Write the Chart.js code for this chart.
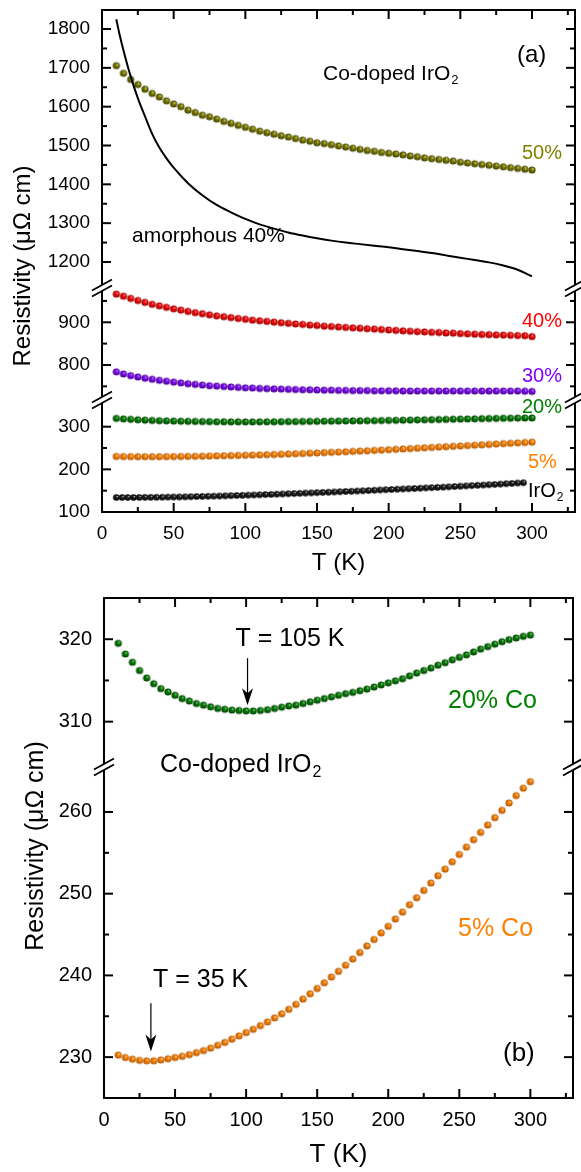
<!DOCTYPE html>
<html>
<head>
<meta charset="utf-8">
<script src="https://cdn.jsdelivr.net/npm/chart.js@4.4.1/dist/chart.umd.min.js"></script>
<style>
  html, body { margin: 0; padding: 0; background: #fff; }
  body { width: 581px; height: 1172px; position: relative; overflow: hidden; }
  canvas { position: absolute; left: 0; }
  #chartA { top: 0; }
  #chartB { top: 580px; }
</style>
</head>
<body>
<canvas id="chartA" width="581" height="580"></canvas>
<canvas id="chartB" width="581" height="592"></canvas>
<script>
// temperatures (K)
const temp5 = [10,15,20,25,30,35,40,45,50,55,60,65,70,75,80,85,90,95,100,105,110,115,120,125,130,135,140,145,150,155,
  160,165,170,175,180,185,190,195,200,205,210,215,220,225,230,235,240,245,250,255,260,265,270,275,280,285,290,295,300];
const tempIrO2 = [10,14,18,22,26,30,34,38,42,46,50,54,58,62,66,70,74,78,82,86,90,94,98,102,106,110,114,118,122,126,
  130,134,138,142,146,150,154,158,162,166,170,174,178,182,186,190,194,198,202,206,210,214,218,222,226,230,234,238,242,246,
  250,254,258,262,266,270,274,278,282,286,290,294];
const tempAmorph = [10,12,15,20,25,30,35,40,45,50,60,70,80,90,100,110,120,130,140,150,160,170,180,190,200,210,220,230,240,250,260,270,280,290,300];

// resistivity (uOhm cm)
const rho50 = [1705.6,1686,1670,1657,1645,1634,1625,1615,1607,1600,
  1591,1585,1578,1574,1568,1562,1557,1552,1547,1542,
  1537,1533,1529,1525,1522,1518,1514,1511,1507,1505,
  1502,1499,1496,1493,1490,1487,1485,1482,1480,1478,
  1476,1473,1471,1468,1466,1464,1462,1460,1457,1455,
  1453,1451,1449,1447,1445,1443,1441,1439,1437];
const rho40 = [966,961,956,951,946.5,942,938.5,935,931.5,928.5,
  925.5,922.5,920,917.5,915,913,911,909,907,905,
  903.5,902,900.5,899,897.5,896,895,893.5,892.5,891,
  890,889,888,887,886,885,884,883,882,881,
  880,879,878,877.5,876.5,876,875,874.5,873.5,873,
  872,871.5,871,870.5,870,869.5,869,868.5,866.5];
const rho30 = [784,779,775,772,769,766.5,764,762,760,758,
  756,754.5,753,751.5,750.5,749.5,748.5,747.5,746.5,746,
  745,744.5,744,743.5,743,742.5,742,742,741.5,741,
  741,740.5,740.5,740,740,740,739.5,739.5,739.5,739.5,
  739,739,739,739,739,739,739,739,739,739,
  739,739,739,739,739,739,739,738.5,738];
const rho20 = [319.5,318.2,317.2,316.2,315.3,314.6,314.0,313.6,313.2,312.8,
  312.5,312.2,312.0,311.8,311.6,311.5,311.4,311.35,311.3,311.3,
  311.35,311.45,311.6,311.75,311.9,312.0,312.2,312.4,312.6,312.8,
  313.0,313.2,313.4,313.55,313.75,313.95,314.2,314.45,314.7,314.95,
  315.2,315.55,315.9,316.2,316.5,316.85,317.15,317.5,317.8,318.1,
  318.45,318.8,319.1,319.4,319.7,319.95,320.15,320.35,320.5];
const rho5 = [230.25,229.95,229.75,229.6,229.55,229.55,229.65,229.8,229.95,230.1,
  230.3,230.55,230.8,231.1,231.45,231.8,232.2,232.6,233.0,233.4,
  233.85,234.3,234.8,235.3,235.85,236.45,237.1,237.75,238.4,239.1,
  239.8,240.5,241.25,242.0,242.8,243.6,244.4,245.2,246.0,246.9,
  247.75,248.65,249.5,250.4,251.3,252.2,253.0,253.9,254.8,255.7,
  256.6,257.5,258.4,259.3,260.2,261.1,262.0,262.9,263.7];
const rhoIrO2 = [134.0,134.0,134.1,134.1,134.2,134.3,134.4,134.5,134.7,134.9,
  135.1,135.3,135.6,135.9,136.2,136.5,136.8,137.2,137.5,137.9,
  138.3,138.7,139.1,139.5,140.0,140.4,140.9,141.3,141.8,142.3,
  142.8,143.3,143.8,144.3,144.8,145.3,145.9,146.4,147.0,147.5,
  148.1,148.6,149.2,149.8,150.4,151.0,151.6,152.2,152.8,153.4,
  154.0,154.6,155.2,155.8,156.5,157.1,157.7,158.3,159.0,159.7,
  160.5,161.2,161.9,162.6,163.3,164.0,164.7,165.5,166.3,167.1,167.9,168.7];
const rhoAmorph = [1825,1790,1745,1678,1622,1575,1530,1495,1467,1443,1403,1372,1347,1328,1311,1297,1286,1276,1268,1261,
  1255,1250,1246,1242,1238,1233,1228,1223,1217,1211,1205,1199,1191,1180,1163];

// ticks
const xMajor = [0,50,100,150,200,250,300];
const xMinor = [25,75,125,175,225,275,325];
const yTopA = [1200,1300,1400,1500,1600,1700,1800];
const yTopAMinor = [1250,1350,1450,1550,1650,1750];
const yMidA = [800,900];
const yMidAMinor = [750,850,950];
const yLowA = [100,200,300];
const yLowAMinor = [150,250];
const yTopB = [310,320];
const yTopBMinor = [315];
const yLowB = [230,240,250,260];
const yLowBMinor = [235,245,255];

const FONT = "'Liberation Sans', Arial, Helvetica, sans-serif";

const pts = (xs, ys) => xs.map((x, i) => ({x: x, y: ys[i]}));

function ball(light, mid, dark, r) {
  const c = document.createElement('canvas');
  const s = Math.ceil(2 * r + 2);
  c.width = s; c.height = s;
  const g = c.getContext('2d');
  const cx = s / 2, cy = s / 2;
  const grad = g.createRadialGradient(cx + r * 0.3, cy - r * 0.35, 0, cx, cy, r);
  grad.addColorStop(0, light);
  grad.addColorStop(0.3, mid);
  grad.addColorStop(1, dark);
  g.fillStyle = grad;
  g.beginPath(); g.arc(cx, cy, r, 0, Math.PI * 2); g.fill();
  return c;
}

function dots(data, yAxisID, img) {
  return {data: data, yAxisID: yAxisID, pointStyle: img, pointRadius: 3.5, showLine: false};
}

function drawText(ctx, t) {
  ctx.font = t.size + 'px ' + FONT;
  ctx.fillStyle = t.color || '#000';
  ctx.textBaseline = 'alphabetic';
  ctx.textAlign = 'left';
  const base = t.y + t.size * 0.358;
  let w = ctx.measureText(t.text).width;
  const subSize = Math.round(t.size * 0.62);
  let x = t.x;
  if (t.center) {
    let sw = 0;
    if (t.sub) { ctx.font = subSize + 'px ' + FONT; sw = ctx.measureText(t.sub).width + 1; ctx.font = t.size + 'px ' + FONT; }
    x -= (w + sw) / 2;
  }
  ctx.fillText(t.text, x, base);
  if (t.sub) {
    ctx.font = subSize + 'px ' + FONT;
    ctx.fillText(t.sub, x + w + 1, base + t.size * 0.2);
  }
}

const frame = {
  id: 'frame',
  afterDraw(chart, args, o) {
    const {ctx, chartArea: a, scales} = chart;
    const sx = scales.x;
    ctx.save();
    ctx.strokeStyle = '#000';
    ctx.lineCap = 'butt';
    const line = (x1, y1, x2, y2) => { ctx.beginPath(); ctx.moveTo(x1, y1); ctx.lineTo(x2, y2); ctx.stroke(); };
    ctx.lineWidth = 2;
    ctx.strokeRect(a.left, a.top, a.right - a.left, a.bottom - a.top);
    // x ticks, inward on top and bottom
    [[xMajor, 9], [xMinor, 5]].forEach(([vals, len]) => vals.forEach(v => {
      const px = sx.getPixelForValue(v);
      line(px, a.bottom, px, a.bottom - len);
      line(px, a.top, px, a.top + len);
    }));
    // y ticks, inward on left and right
    o.yAxes.forEach(ax => {
      const s = scales[ax.id];
      [[ax.major, 9], [ax.minor, 5]].forEach(([vals, len]) => vals.forEach(v => {
        const py = s.getPixelForValue(v);
        line(a.left, py, a.left + len, py);
        line(a.right, py, a.right - len, py);
      }));
    });
    // axis breaks
    o.yAxes.slice(0, -1).forEach(ax => {
      const yb = scales[ax.id].bottom;
      [a.left, a.right].forEach(xb => {
        ctx.fillStyle = '#fff';
        ctx.beginPath();
        ctx.moveTo(xb - 10, yb + 2.5); ctx.lineTo(xb + 10, yb - 8.5);
        ctx.lineTo(xb + 10, yb - 2.5); ctx.lineTo(xb - 10, yb + 8.5);
        ctx.closePath(); ctx.fill();
        ctx.lineWidth = 1.8;
        line(xb - 10, yb + 2.5, xb + 10, yb - 8.5);
        line(xb - 10, yb + 8.5, xb + 10, yb - 2.5);
      });
    });
    // y title
    ctx.save();
    ctx.translate(o.yTitle.x, o.yTitle.y);
    ctx.rotate(-Math.PI / 2);
    ctx.font = o.yTitle.size + 'px ' + FONT;
    ctx.fillStyle = '#000';
    ctx.textAlign = 'center';
    ctx.textBaseline = 'alphabetic';
    ctx.fillText('Resistivity (\u03bc\u03a9 cm)', 0, 0);
    ctx.restore();
    // arrows
    (o.arrows || []).forEach(ar => {
      const s = scales[ar.axis];
      const px = sx.getPixelForValue(ar.x);
      const y1 = s.getPixelForValue(ar.from), y2 = s.getPixelForValue(ar.to);
      ctx.lineWidth = 1.2;
      line(px, y1, px, y2 - 8);
      ctx.fillStyle = '#000';
      ctx.beginPath();
      ctx.moveTo(px, y2);
      ctx.lineTo(px - 5.5, y2 - 17);
      ctx.lineTo(px, y2 - 12);
      ctx.lineTo(px + 5.5, y2 - 17);
      ctx.closePath(); ctx.fill();
    });
    (o.texts || []).forEach(t => drawText(ctx, t));
    ctx.restore();
  }
};

function yScale(min, max, weight, order, ticks, size, pad) {
  return {
    type: 'linear', position: 'left', stack: 'rho', stackWeight: weight, weight: order,
    min: min, max: max,
    afterBuildTicks: s => { s.ticks = ticks.map(v => ({value: v})); },
    afterFit: s => { s.width = pad.w; s.paddingTop = 0; s.paddingBottom = 0; },
    grid: {display: false, drawTicks: false},
    border: {display: false},
    ticks: {color: '#000', font: {family: FONT, size: size}, padding: 12, callback: v => String(v)}
  };
}

function xScale(size, h, titleSize, titlePad) {
  return {
    type: 'linear', position: 'bottom', min: 0, max: 330,
    afterBuildTicks: s => { s.ticks = xMajor.map(v => ({value: v})); },
    afterFit: s => { s.height = h; s.paddingLeft = 0; s.paddingRight = 0; },
    grid: {display: false, drawTicks: false},
    border: {display: false},
    ticks: {color: '#000', font: {family: FONT, size: size}, padding: 10, maxRotation: 0, autoSkip: false, callback: v => String(v)},
    title: {display: true, text: 'T (K)', color: '#000', font: {family: FONT, size: titleSize}, padding: {top: 0, bottom: titlePad}}
  };
}

const olive = ball('#f4f4c8', '#858500', '#404000', 3.6);
const red = ball('#ffd6d6', '#ff1010', '#980000', 3.6);
const purple = ball('#ead2ff', '#8410ff', '#48008f', 3.6);
const green = ball('#cdf2cd', '#0a870a', '#004000', 3.6);
const orange = ball('#ffe8cc', '#ff8a10', '#b05500', 3.6);
const black = ball('#d8d8d8', '#2a2a2a', '#000000', 3.3);

new Chart(document.getElementById('chartA'), {
  type: 'scatter',
  data: {
    datasets: [
      {data: pts(tempAmorph, rhoAmorph), yAxisID: 'yTop', showLine: true, borderColor: '#000', borderWidth: 2,
        pointRadius: 0, cubicInterpolationMode: 'monotone'},
      dots(pts(temp5, rho50), 'yTop', olive),
      dots(pts(temp5, rho40), 'yMid', red),
      dots(pts(temp5, rho30), 'yMid', purple),
      dots(pts(temp5, rho20), 'yLow', green),
      dots(pts(temp5, rho5), 'yLow', orange),
      dots(pts(tempIrO2, rhoIrO2), 'yLow', black)
    ]
  },
  options: {
    responsive: false, animation: false, devicePixelRatio: 1,
    layout: {padding: {left: 0, top: 10, right: 6, bottom: 0}},
    plugins: {
      legend: {display: false}, tooltip: {enabled: false},
      frame: {
        yAxes: [
          {id: 'yTop', major: yTopA, minor: yTopAMinor},
          {id: 'yMid', major: yMidA, minor: yMidAMinor},
          {id: 'yLow', major: yLowA, minor: yLowAMinor}
        ],
        yTitle: {x: 30, y: 266, size: 24},
        texts: [
          {text: 'Co-doped IrO', sub: '2', x: 323, y: 72.5, size: 21},
          {text: '(a)', x: 517, y: 53, size: 24},
          {text: '50%', x: 522, y: 152, size: 20, color: '#808000'},
          {text: 'amorphous 40%', x: 132, y: 234.5, size: 21},
          {text: '40%', x: 522, y: 320, size: 20, color: '#ff0000'},
          {text: '30%', x: 522, y: 375, size: 20, color: '#8000ff'},
          {text: '20%', x: 522, y: 406, size: 20, color: '#008000'},
          {text: '5%', x: 528, y: 461, size: 20, color: '#ff8000'},
          {text: 'IrO', sub: '2', x: 528, y: 490, size: 20}
        ]
      }
    },
    scales: {
      x: xScale(19, 68, 24, 2),
      yTop: yScale(1133, 1849, 278, 3, yTopA, 19, {w: 102}),
      yMid: yScale(718, 980.3, 112, 2, yMidA, 19, {w: 102}),
      yLow: yScale(100, 362.6, 112, 1, yLowA, 19, {w: 102})
    }
  },
  plugins: [frame]
});

new Chart(document.getElementById('chartB'), {
  type: 'scatter',
  data: {
    datasets: [
      dots(pts(temp5, rho20), 'yTop', green),
      dots(pts(temp5, rho5), 'yLow', orange)
    ]
  },
  options: {
    responsive: false, animation: false, devicePixelRatio: 1,
    layout: {padding: {left: 0, top: 18, right: 8, bottom: 0}},
    plugins: {
      legend: {display: false}, tooltip: {enabled: false},
      frame: {
        yAxes: [
          {id: 'yTop', major: yTopB, minor: yTopBMinor},
          {id: 'yLow', major: yLowB, minor: yLowBMinor}
        ],
        yTitle: {x: 43, y: 266, size: 25},
        arrows: [
          {axis: 'yTop', x: 101, from: 317.7, to: 312.0},
          {axis: 'yLow', x: 33, from: 236.6, to: 230.7}
        ],
        texts: [
          {text: 'T = 105 K', x: 290, y: 57.5, size: 25, center: true},
          {text: '20% Co', x: 448, y: 119, size: 25, color: '#008000'},
          {text: 'Co-doped IrO', sub: '2', x: 160, y: 183, size: 25},
          {text: '5% Co', x: 458, y: 347, size: 25, color: '#ff8000'},
          {text: 'T = 35 K', x: 153, y: 398, size: 25},
          {text: '(b)', x: 503, y: 472, size: 26}
        ]
      }
    },
    scales: {
      x: xScale(20, 74, 26, 1.5),
      yTop: yScale(304.5, 325, 169, 2, yTopB, 20, {w: 104}),
      yLow: yScale(225, 265.5, 331, 1, yLowB, 20, {w: 104})
    }
  },
  plugins: [frame]
});
</script>
</body>
</html>
